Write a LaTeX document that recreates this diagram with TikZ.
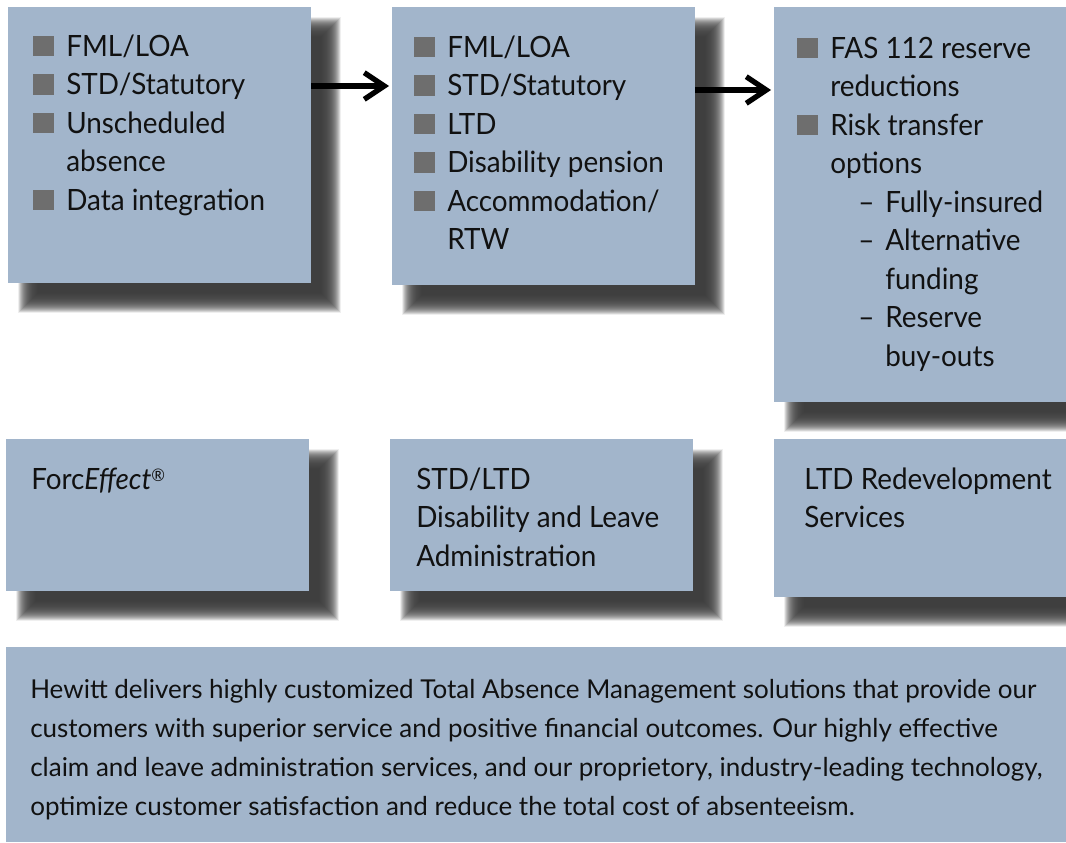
\documentclass[tikz,border=0pt]{standalone}
\usepackage{fontspec}
\setmainfont{Lato}[FakeStretch=0.95]
\newfontfamily\bodyfont{Lato}
\usetikzlibrary{arrows.meta,fit}
\definecolor{boxfill}{HTML}{A2B5CB}
\definecolor{shad}{HTML}{3E3E3E}
\definecolor{bulc}{HTML}{6E6E6E}
\definecolor{txt}{HTML}{111111}
\newcommand\bul{\makebox[24.75pt][l]{\textcolor{bulc}{\rule{15.5pt}{15.5pt}}}}
\newcommand\cont{\hspace*{24.75pt}}
\newcommand\subd{\hspace*{45.75pt}\makebox[20.25pt][l]{–}}
\newcommand\subc{\hspace*{66pt}}
\newcommand\blurshadow[4]{%
  \foreach \k in {0,...,39}{%
    \pgfmathsetmacro\dd{-10+20*\k/39}%
    \fill[shad, opacity=0.08] ({#1+20+\dd},{#2+20+\dd}) rectangle ({#3+20-\dd},{#4+20-\dd});
  }}
\tikzset{
  box/.style={fill=boxfill, draw=none, inner sep=0pt},
  topt/.style={anchor=north west, inner sep=0pt, align=left, text=txt,
    font=\fontsize{22}{28.9}\selectfont},
  bott/.style={anchor=north west, inner sep=0pt, align=left, text=txt,
    font=\bodyfont\fontsize{19.5}{29.25}\selectfont},
  arr/.style={line width=4pt, -{Straight Barb[length=15pt,width=20pt]}, shorten >=2pt}
}
\begin{document}
\begin{tikzpicture}[x=0.75pt,y=-0.75pt]
\useasboundingbox (0,0) rectangle (1066,842);
\fill[white] (0,0) rectangle (1066,842);
% shadows
\blurshadow{8}{7}{311}{283}
\blurshadow{392}{7}{695}{285}
\blurshadow{774}{7}{1066}{402}
\blurshadow{6}{439}{309}{591}
\blurshadow{390}{439}{693}{591}
\blurshadow{774}{439}{1066}{597}
% boxes
\node[box, fit={(8,7) (311,283)}] (b1) {};
\node[box, fit={(392,7) (695,285)}] (b2) {};
\node[box, fit={(774,7) (1066,402)}] (b3) {};
\node[box, fit={(6,439) (309,591)}] (b4) {};
\node[box, fit={(390,439) (693,591)}] (b5) {};
\node[box, fit={(774,439) (1066,597)}] (b6) {};
\node[box, fit={(6,647) (1066,842)}] (b7) {};
% texts
\node[topt] (t1) at (33,29) {\strut\bul FML/LOA\\\bul STD/Statutory\\\bul Unscheduled\\\cont absence\\\bul Data integration};
\node[topt] (t2) at (414,30) {\strut\bul FML/LOA\\\bul STD/Statutory\\\bul LTD\\\bul Disability pension\\\bul Accommodation/\\\cont RTW};
\node[topt] (t3) at (797,31) {\strut\bul FAS 112 reserve\\\cont reductions\\\bul Risk transfer\\\cont options\\\subd Fully-insured\\\subd Alternative\\\subc funding\\\subd Reserve\\\subc buy-outs};
\node[topt] (t4) at (31,462) {\strut Forc\textit{Effect}\raisebox{6pt}{\fontsize{13}{13}\selectfont ®}};
\node[topt] (t5) at (416,462) {\strut STD/LTD\\Disability and Leave\\Administration};
\node[topt] (t6) at (804,462) {\strut LTD Redevelopment\\Services};
\node[bott] (t7) at (30,671) {\strut Hewitt delivers highly customized Total Absence Management solutions that provide our\\customers with superior service and positive financial outcomes. Our highly effective\\claim and leave administration services, and our proprietory, industry-leading technology,\\optimize customer satisfaction and reduce the total cost of absenteeism.};
% arrows
\draw[arr] (b1.east |- 0,86) -- (b2.west |- 0,86);
\draw[arr] (b2.east |- 0,90) -- (b3.west |- 0,90);
\end{tikzpicture}
\end{document}
